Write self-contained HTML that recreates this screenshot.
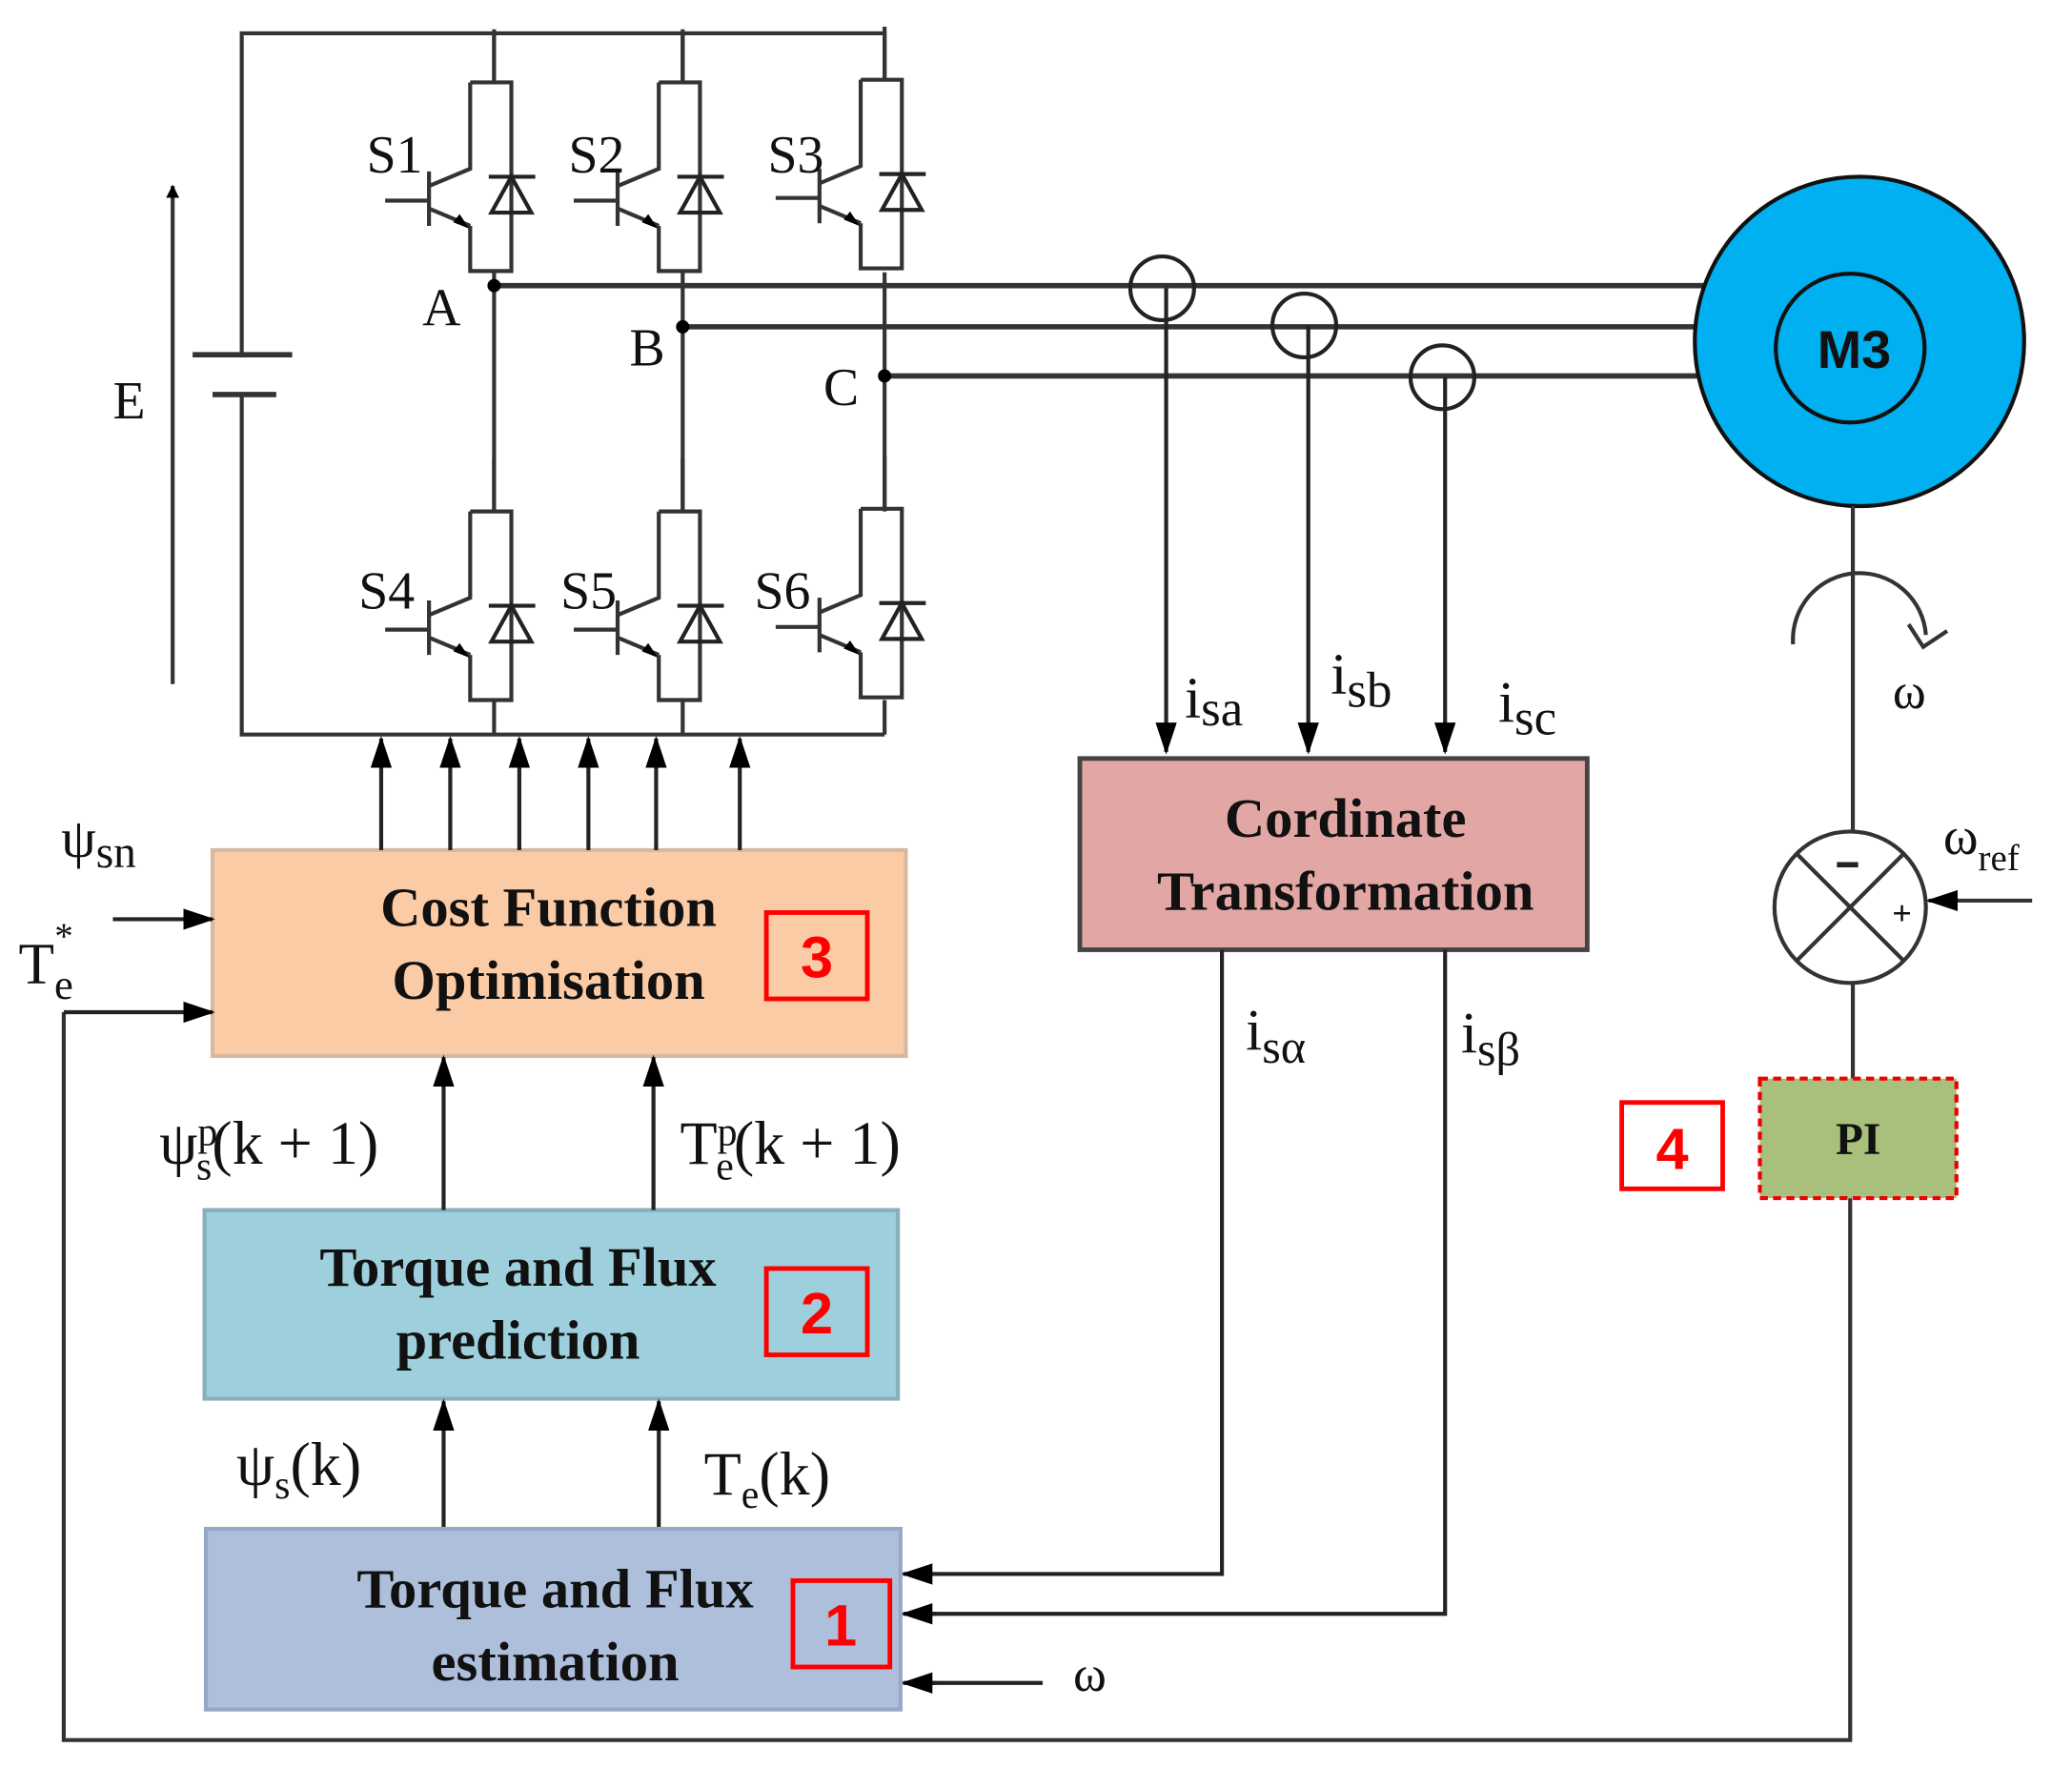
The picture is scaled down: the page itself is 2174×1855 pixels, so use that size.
<!DOCTYPE html>
<html><head><meta charset="utf-8"><style>
html,body{margin:0;padding:0;background:#fff;}
svg{display:block;}
text{font-family:"Liberation Serif",serif;fill:#111;}
.b{font-weight:bold;}
.r{font-family:"Liberation Sans",sans-serif;font-weight:bold;fill:#f00;}
</style></head><body>
<svg width="2174" height="1855" viewBox="0 0 1560 1331" xmlns="http://www.w3.org/2000/svg">
<defs>
<marker id="ah" markerWidth="10" markerHeight="10" refX="9" refY="5" orient="auto" markerUnits="userSpaceOnUse" viewBox="0 0 10 10">
<path d="M0,0 L10,5 L0,10 z" fill="#000"/></marker>
<marker id="ahl" markerWidth="24" markerHeight="20" refX="22" refY="10" orient="auto" markerUnits="userSpaceOnUse">
<path d="M0,2 L24,10 L0,18 z" fill="#000"/></marker>
<g id="sw" fill="none" stroke="#333" stroke-width="3">
<path d="M0,-40 V0 M-18,0 H13 V142 H-18 V108 M-18,0 V65 L-49,78"/>
<path d="M-49,67 V108 M-82,89 H-49 M-49,95 L-18,108"/>
<path d="M-2,98 L13,71 L28,98 Z M-4,71 H31" stroke="#222"/>
<path d="M-30,105 L-20,109 L-26,100 z" fill="#000" stroke="#000" stroke-width="1"/>
</g>
</defs>

<!-- inverter -->
<g fill="none" stroke="#333" stroke-width="3">
<path d="M182,266 V25 H666 V60"/>
<path d="M182,297 V553 H666"/>
<path d="M372,25 V62 M514,25 V62"/>
<path d="M145,267 H220" stroke-width="4"/>
<path d="M160,297 H208" stroke-width="4"/>
<path d="M372,205 V385 M514,205 V385 M666,205 V385"/>
<path d="M372,527 V553 M514,527 V553 M666,527 V553"/>
</g>
<use href="#sw" x="372" y="62"/>
<use href="#sw" x="514" y="62"/>
<use href="#sw" x="666" y="60"/>
<use href="#sw" x="372" y="385"/>
<use href="#sw" x="514" y="385"/>
<use href="#sw" x="666" y="383"/>
<line x1="130" y1="515" x2="130" y2="140" stroke="#333" stroke-width="3" marker-end="url(#ah)"/>
<text x="85" y="315" font-size="40">E</text>
<text x="276" y="130" font-size="40">S1</text>
<text x="428" y="130" font-size="40">S2</text>
<text x="578" y="130" font-size="40">S3</text>
<text x="270" y="458" font-size="40">S4</text>
<text x="422" y="458" font-size="40">S5</text>
<text x="568" y="458" font-size="40">S6</text>
<text x="318" y="245" font-size="40">A</text>
<text x="474" y="275" font-size="40">B</text>
<text x="620" y="305" font-size="40">C</text>

<!-- phase lines -->
<g fill="none" stroke="#333" stroke-width="4">
<path d="M372,215 H1283"/>
<path d="M514,246 H1276"/>
<path d="M666,283 H1280"/>
</g>
<circle cx="372" cy="215" r="5" fill="#000"/>
<circle cx="514" cy="246" r="5" fill="#000"/>
<circle cx="666" cy="283" r="5" fill="#000"/>
<g fill="none" stroke="#222" stroke-width="3">
<circle cx="875" cy="217" r="24"/>
<circle cx="982" cy="245" r="24"/>
<circle cx="1086" cy="284" r="24"/>
</g>
<g stroke="#222" stroke-width="3">
<line x1="878" y1="217" x2="878" y2="566" marker-end="url(#ahl)"/>
<line x1="985" y1="245" x2="985" y2="566" marker-end="url(#ahl)"/>
<line x1="1088" y1="284" x2="1088" y2="566" marker-end="url(#ahl)"/>
</g>
<text x="892" y="540" font-size="44">i<tspan font-size="38" dy="6">sa</tspan></text>
<text x="1002" y="522" font-size="44">i<tspan font-size="38" dy="10">sb</tspan></text>
<text x="1128" y="543" font-size="44">i<tspan font-size="38" dy="10">sc</tspan></text>

<!-- motor -->
<circle cx="1400" cy="257" r="124" fill="#00b0f0" stroke="#111" stroke-width="3"/>
<circle cx="1393" cy="262" r="56" fill="none" stroke="#111" stroke-width="3"/>
<text x="1396" y="277" font-size="40" text-anchor="middle" style="font-family:'Liberation Sans',sans-serif;font-weight:bold">M3</text>

<!-- shaft / sum -->
<g fill="none" stroke="#333" stroke-width="3">
<path d="M1395,381 V627"/>
<path d="M1350,485 A48,48 0 0 1 1450,478"/>
<path d="M1437,470 L1448,487 L1466,475"/>
<circle cx="1393" cy="683" r="57"/>
<path d="M1353,643 L1433,723 M1433,643 L1353,723"/>
<path d="M1395,740 V812"/>
<path d="M1393,902 V1310 H48 V762"/>
</g>
<line x1="1530" y1="678" x2="1452" y2="678" stroke="#333" stroke-width="3" marker-end="url(#ahl)"/>
<text x="1425" y="533" font-size="38">ω</text>
<text x="1463" y="643" font-size="40">ω<tspan font-size="28" dy="12">ref</tspan></text>
<rect x="1383" y="649" width="16" height="4" fill="#222"/>
<text x="1432" y="696" font-size="26" class="b" text-anchor="middle">+</text>

<!-- PI -->
<rect x="1325" y="812" width="148" height="90" fill="#a9c07c" stroke="#e00" stroke-width="3" stroke-dasharray="6,4"/>
<text x="1399" y="869" font-size="34" class="b" text-anchor="middle">PI</text>
<rect x="1221" y="830" width="76" height="65" fill="none" stroke="#f00" stroke-width="3.5"/>
<text x="1259" y="880" font-size="44" class="r" text-anchor="middle">4</text>

<!-- Cordinate -->
<rect x="813" y="571" width="382" height="144" fill="#e2a7a5" stroke="#444" stroke-width="3.5"/>
<text x="1013" y="630" font-size="42" class="b" text-anchor="middle">Cordinate</text>
<text x="1013" y="685" font-size="42" class="b" text-anchor="middle">Transformation</text>
<g fill="none" stroke="#222" stroke-width="3">
<path d="M920,715 V1185 H700"/>
<path d="M1088,715 V1215 H700"/>
<path d="M785,1267 H700"/>
</g>
<g stroke="#222" stroke-width="3">
<line x1="705" y1="1185" x2="680" y2="1185" marker-end="url(#ahl)"/>
<line x1="705" y1="1215" x2="680" y2="1215" marker-end="url(#ahl)"/>
<line x1="705" y1="1267" x2="680" y2="1267" marker-end="url(#ahl)"/>
</g>
<text x="938" y="790" font-size="44">i<tspan font-size="36" dy="10">sα</tspan></text>
<text x="1100" y="792" font-size="44">i<tspan font-size="36" dy="10">sβ</tspan></text>
<text x="808" y="1273" font-size="38">ω</text>

<!-- Cost function -->
<rect x="160" y="640" width="522" height="155" fill="#fbcba5" stroke="#d8b8a0" stroke-width="3"/>
<text x="413" y="697" font-size="42" class="b" text-anchor="middle">Cost Function</text>
<text x="413" y="752" font-size="42" class="b" text-anchor="middle">Optimisation</text>
<rect x="577" y="687" width="76" height="65" fill="none" stroke="#f00" stroke-width="3.5"/>
<text x="615" y="736" font-size="44" class="r" text-anchor="middle">3</text>
<g stroke="#222" stroke-width="3">
<line x1="287" y1="640" x2="287" y2="556" marker-end="url(#ahl)"/>
<line x1="339" y1="640" x2="339" y2="556" marker-end="url(#ahl)"/>
<line x1="391" y1="640" x2="391" y2="556" marker-end="url(#ahl)"/>
<line x1="443" y1="640" x2="443" y2="556" marker-end="url(#ahl)"/>
<line x1="494" y1="640" x2="494" y2="556" marker-end="url(#ahl)"/>
<line x1="557" y1="640" x2="557" y2="556" marker-end="url(#ahl)"/>
<line x1="85" y1="692" x2="160" y2="692" marker-end="url(#ahl)"/>
<line x1="48" y1="762" x2="160" y2="762" marker-end="url(#ahl)"/>
</g>
<text x="46" y="645" font-size="42">ψ<tspan font-size="34" dy="8">sn</tspan></text>
<text x="14" y="740" font-size="44">T<tspan font-size="32" dy="12">e</tspan><tspan font-size="28" dx="-14" dy="-38">*</tspan></text>

<!-- prediction -->
<rect x="154" y="911" width="522" height="142" fill="#9dd0dc" stroke="#88b0b8" stroke-width="3"/>
<text x="390" y="968" font-size="42" class="b" text-anchor="middle">Torque and Flux</text>
<text x="390" y="1023" font-size="42" class="b" text-anchor="middle">prediction</text>
<rect x="577" y="955" width="76" height="65" fill="none" stroke="#f00" stroke-width="3.5"/>
<text x="615" y="1004" font-size="44" class="r" text-anchor="middle">2</text>
<g stroke="#222" stroke-width="3">
<line x1="334" y1="911" x2="334" y2="796" marker-end="url(#ahl)"/>
<line x1="492" y1="911" x2="492" y2="796" marker-end="url(#ahl)"/>
<line x1="334" y1="1151" x2="334" y2="1055" marker-end="url(#ahl)"/>
<line x1="496" y1="1151" x2="496" y2="1055" marker-end="url(#ahl)"/>
</g>
<text x="120" y="876" font-size="46">ψ<tspan font-size="30" dy="-14">p</tspan><tspan font-size="30" dx="-16" dy="26">s</tspan><tspan dy="-12">(k + 1)</tspan></text>
<text x="512" y="876" font-size="46">T<tspan font-size="30" dy="-14">p</tspan><tspan font-size="30" dx="-16" dy="26">e</tspan><tspan dy="-12">(k + 1)</tspan></text>
<text x="178" y="1118" font-size="46">ψ<tspan font-size="30" dy="10">s</tspan><tspan dy="-10">(k)</tspan></text>
<text x="530" y="1125" font-size="46">T<tspan font-size="30" dy="10">e</tspan><tspan dy="-10">(k)</tspan></text>

<!-- estimation -->
<rect x="155" y="1151" width="523" height="136" fill="#aebfdc" stroke="#95a8c8" stroke-width="3"/>
<text x="418" y="1210" font-size="42" class="b" text-anchor="middle">Torque and Flux</text>
<text x="418" y="1265" font-size="42" class="b" text-anchor="middle">estimation</text>
<rect x="597" y="1190" width="73" height="65" fill="none" stroke="#f00" stroke-width="3.5"/>
<text x="633" y="1239" font-size="44" class="r" text-anchor="middle">1</text>
</svg>
</body></html>
